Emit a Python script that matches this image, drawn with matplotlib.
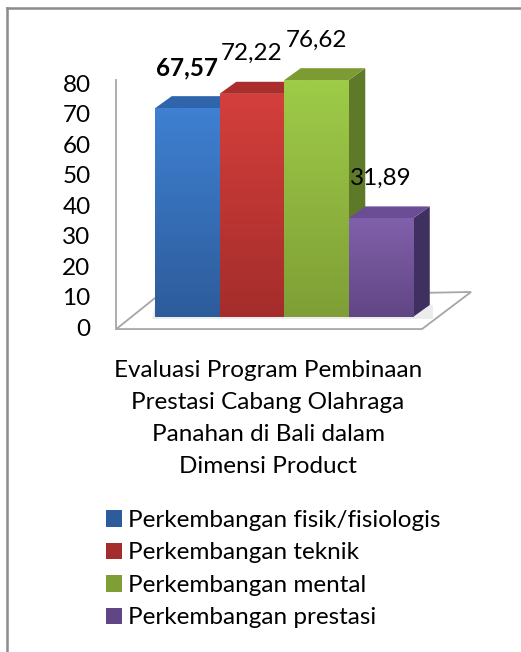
import numpy as np
import matplotlib.pyplot as plt
from matplotlib.patches import Polygon, Patch
from matplotlib.colors import to_rgb

plt.rcParams['font.family'] = ['Lato', 'DejaVu Sans']

# data
labels = ['Perkembangan fisik/fisiologis', 'Perkembangan teknik',
          'Perkembangan mental', 'Perkembangan prestasi']
values = [67.57, 72.22, 76.62, 31.89]
value_text = ['67,57', '72,22', '76,62', '31,89']
yticks = [0, 10, 20, 30, 40, 50, 60, 70, 80]
title_lines = ['Evaluasi Program Pembinaan', 'Prestasi Cabang Olahraga',
               'Panahan di Bali dalam', 'Dimensi Product']

# colours: front top, front bottom, top face, side face
front_top = ['#3f80d2', '#d43f3c', '#9ecb48', '#8160ab']
front_bot = ['#2d5c9b', '#a42d2b', '#7f9f36', '#614685']
top_col = ['#2f66ab', '#a92e2c', '#7c9c33', '#6a4d95']
side_col = ['#244c80', '#85221f', '#5e7a28', '#40305f']

FS = 17.5
W, H = 521, 652
fig = plt.figure(figsize=(W / 100, H / 100), dpi=100)

# axes box in pixels, then data mapping
px_l, px_r, px_t, px_b = 60, 490, 30, 345
ax = fig.add_axes([px_l / W, 1 - px_b / H, (px_r - px_l) / W, (px_b - px_t) / H])
ppx = 64.5   # px per category
ppy = 3.09   # px per unit
x0_px, y0_px = 155, 317
xlim = (-0.5 + (px_l - x0_px) / ppx, -0.5 + (px_r - x0_px) / ppx)
ylim = ((y0_px - px_b) / ppy, (y0_px - px_t) / ppy)
ax.axis('off')

bdx, bdy = 0.26, 3.9      # bar depth
fdy = -3.9                # floor front line
fl, fr = -1.1, 3.64       # floor front x
gray = '#a6a6a6'

# floor and wall line
floor = Polygon([(fl, fdy), (fr, fdy), (4.4, 8.1), (-0.5, 6.15)], closed=True,
                fc='white', ec=gray, lw=1.3, zorder=1)
ax.add_patch(floor)
ax.plot([fl, fl], [fdy, 80 + fdy + 0.6], color=gray, lw=1.3, zorder=1)

x = np.arange(len(values))
for i, v in enumerate(values):
    xl, xr = i - 0.5, i + 0.5
    # soft shadow on the floor
    ax.add_patch(Polygon([(xl - 0.05, -0.6), (xr + bdx + 0.05, -0.6), (xr + bdx + 0.05, bdy),
                          (xl, bdy)], closed=True, fc='#ececec', ec='none', zorder=2))
    # side face
    ax.add_patch(Polygon([(xr, 0), (xr + bdx, bdy), (xr + bdx, v + bdy), (xr, v)],
                         closed=True, fc=side_col[i], ec='none', zorder=3))
    # top face
    ax.add_patch(Polygon([(xl, v), (xr, v), (xr + bdx, v + bdy), (xl + bdx, v + bdy)],
                         closed=True, fc=top_col[i], ec='none', zorder=3))

bars = ax.bar(x, values, width=1.0, color=front_bot, zorder=4, linewidth=0)
for i, b in enumerate(bars):
    c1, c2 = np.array(to_rgb(front_top[i])), np.array(to_rgb(front_bot[i]))
    t = np.linspace(0, 1, 64)[:, None]
    grad = (c1 * (1 - t) + c2 * t)[:, None, :]
    im = ax.imshow(grad, extent=(i - 0.5, i + 0.5, 0, values[i]), aspect='auto',
                   zorder=5, interpolation='bilinear')
    im.set_clip_path(b)

ax.set_xlim(*xlim)
ax.set_ylim(*ylim)

# y tick labels along wall edge (label scale slightly tighter than bars)
for t in yticks:
    ax.text(-1.5, t * 0.985 + fdy, str(t), ha='right', va='center', fontsize=FS, color='black')

# value labels
for i, v in enumerate(values):
    ax.annotate(value_text[i], (i, v), xytext=(0, 29), textcoords='offset points',
                ha='center', va='center', fontsize=FS,
                fontweight='bold' if i == 0 else 'normal')

# title
for k, line in enumerate(title_lines):
    fig.text(268 / W, 1 - (370 + 32.3 * k) / H, line, ha='center', va='center', fontsize=FS)

# legend
handles = [Patch(fc=front_bot[i], ec='none') for i in range(len(labels))]
fig.legend(handles, labels, loc='upper left', bbox_to_anchor=(106 / W, 1 - 510 / H),
           frameon=False, fontsize=FS, handlelength=0.66, handleheight=0.66,
           handletextpad=0.25, labelspacing=0.47, borderaxespad=0, borderpad=0)

# frame (top and left edges)
fig.add_artist(plt.Line2D([6.5 / W, 1], [1 - 7.5 / H, 1 - 7.5 / H], color='#8c8c8c', lw=1.8))
fig.add_artist(plt.Line2D([6.5 / W, 6.5 / W], [0, 1 - 7.5 / H], color='#8c8c8c', lw=1.8))

fig.savefig('out.png', dpi=100, facecolor='white')
